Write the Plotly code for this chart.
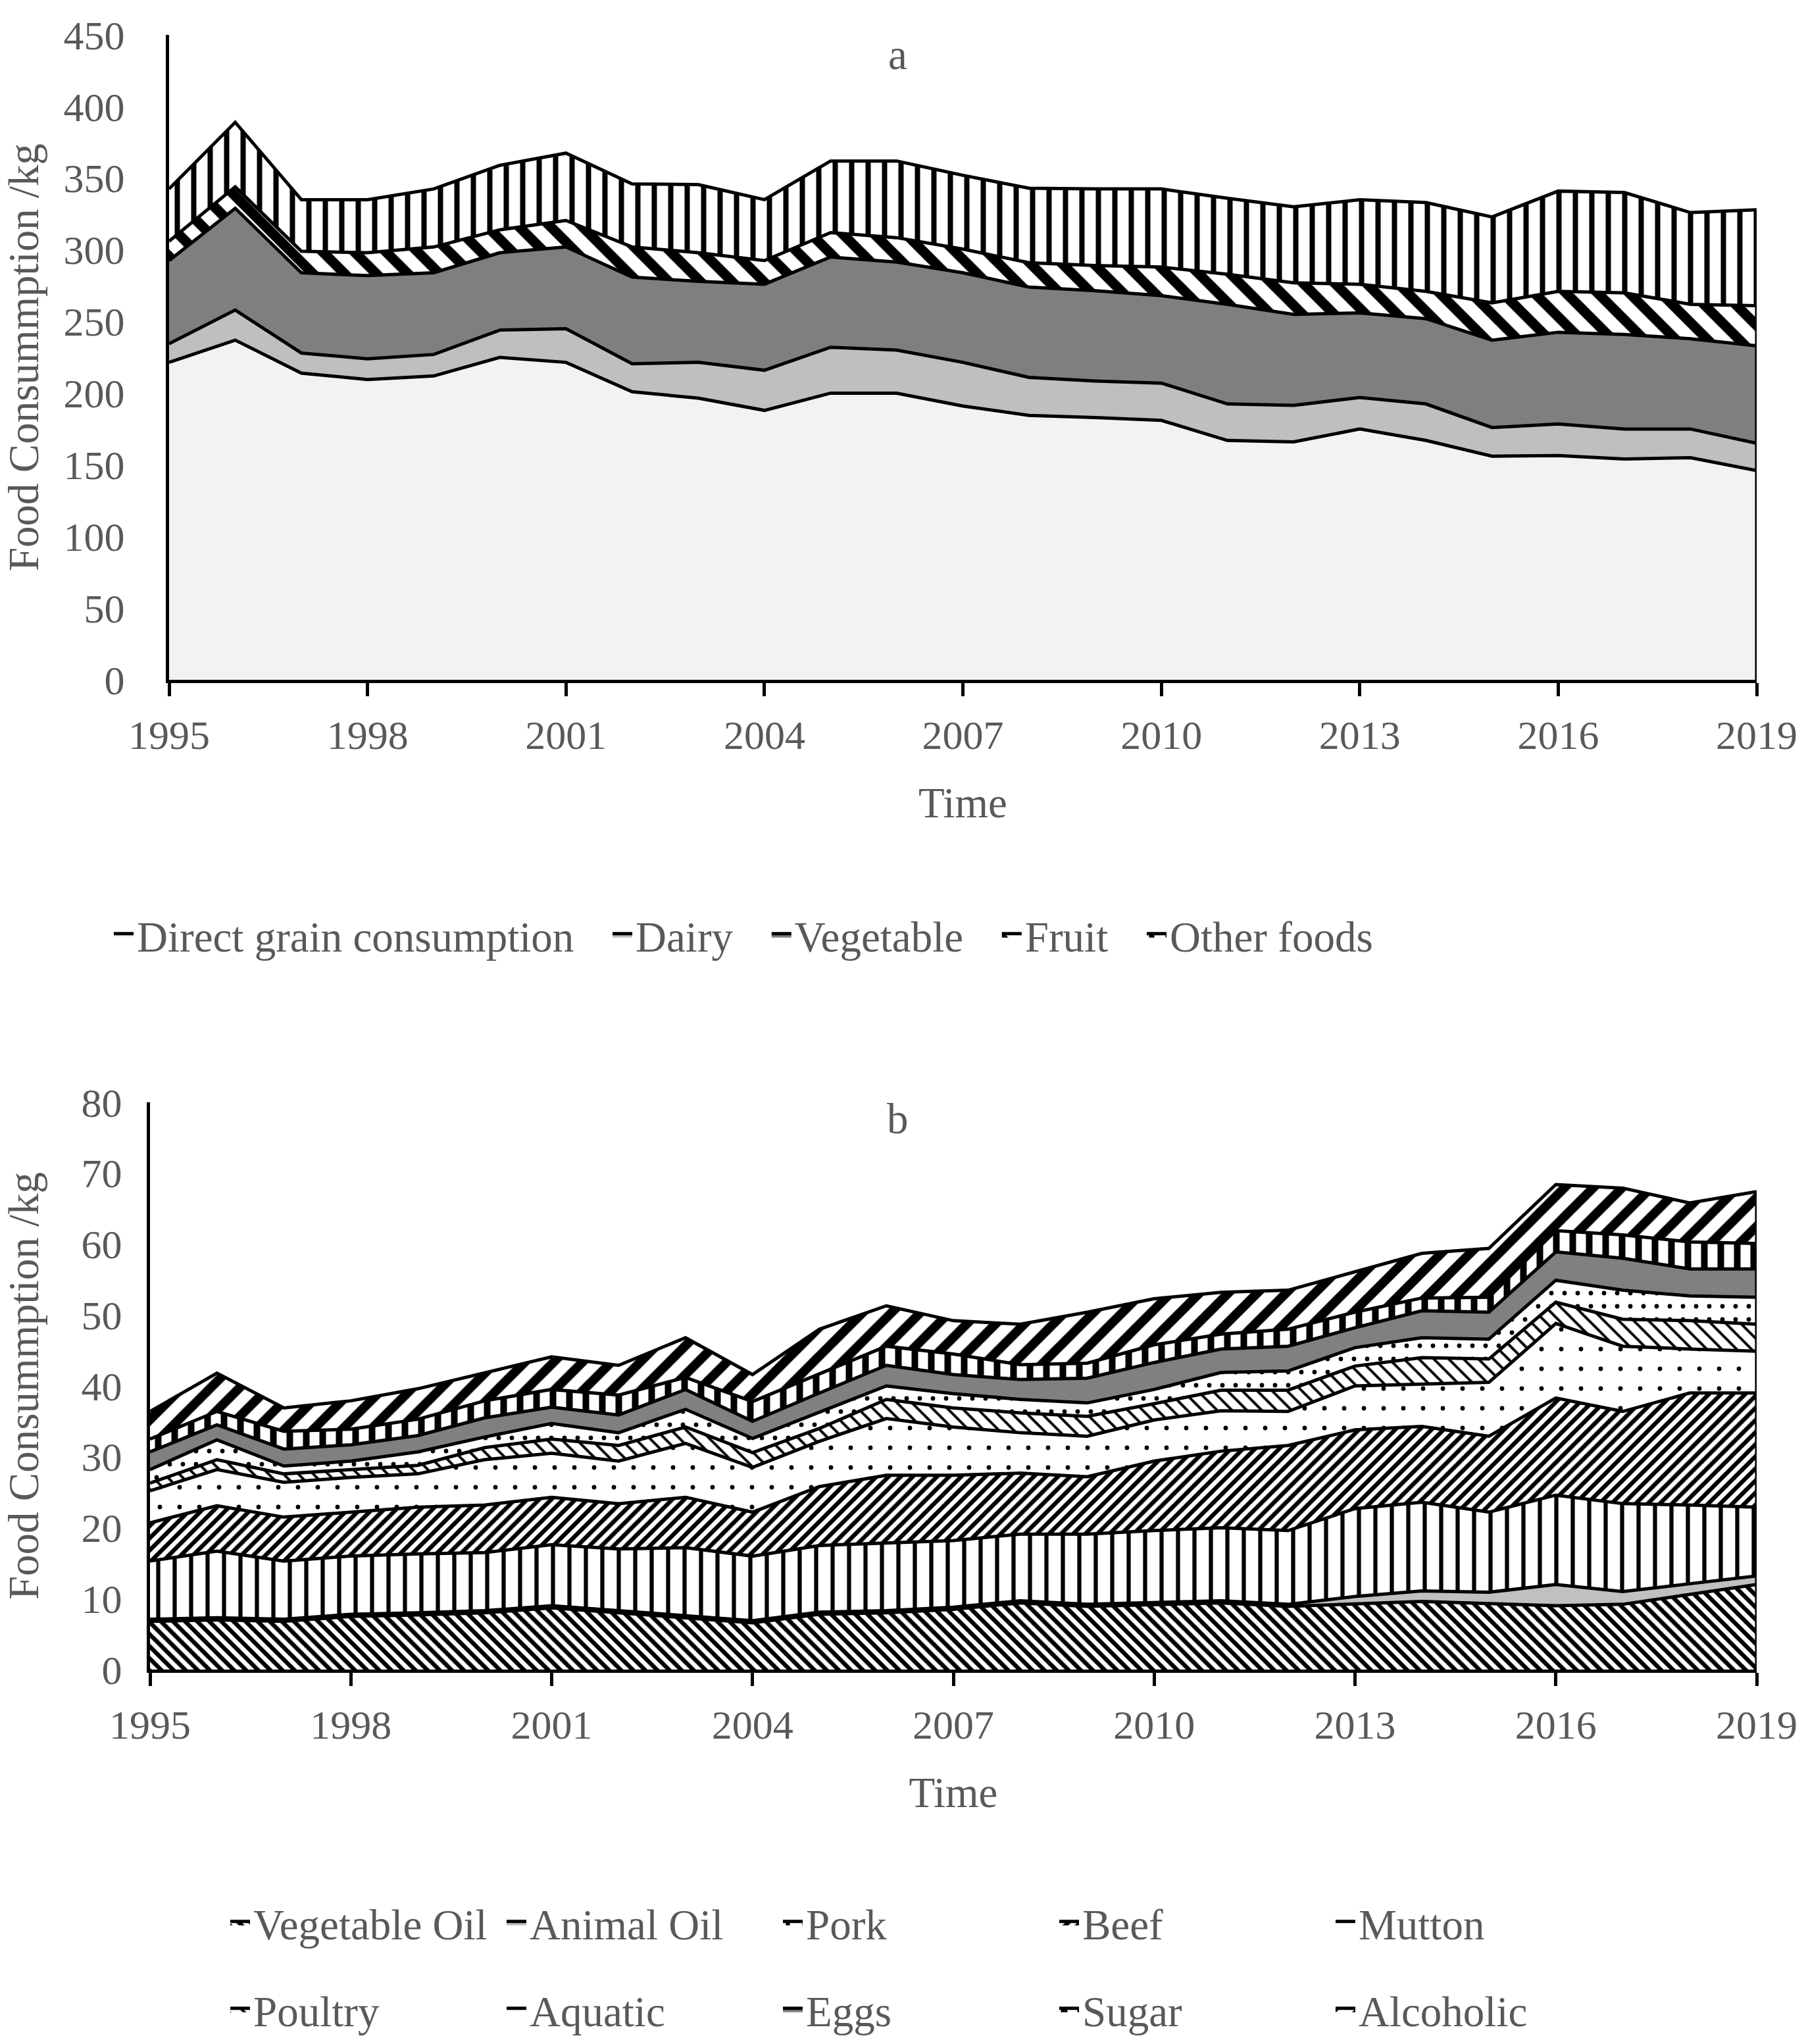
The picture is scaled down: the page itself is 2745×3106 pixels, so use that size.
import plotly.graph_objects as go

W, H = 2745, 3106

# ---------------- data ----------------
years = list(range(1995, 2020))
tick_years = [1995, 1998, 2001, 2004, 2007, 2010, 2013, 2016, 2019]

# chart a (kg per capita)
grain = [221.5, 237, 214, 209.5, 212, 225, 221.5, 201, 196.5, 188, 200, 200, 191,
         184.5, 183, 181, 167, 166, 175, 167, 156, 156.5, 154, 155, 146]
dairy = [13, 21, 14, 14.5, 15, 19, 23.5, 19.5, 25, 28, 32, 30, 30.5,
         26.5, 25.5, 26, 25.5, 25.5, 22, 25.5, 20, 22, 21, 20, 19]
vegetable = [58, 71, 56, 58, 57, 54, 57, 60.5, 56.5, 60, 63, 61.5, 62.5,
             63, 63, 61, 69.5, 63.5, 59, 59.5, 61, 64, 66, 63, 68]
fruit = [13.5, 15, 15, 16, 18, 16, 18.5, 21, 20, 16.5, 17, 17, 16.5,
         17, 17.5, 20, 21, 22, 20, 19, 26, 28.5, 29, 24, 28]
other_foods = [36.5, 45, 36, 37, 40.5, 45, 47, 44, 47.5, 42.5, 50, 53.5, 51.5,
               52, 53.5, 54.5, 53, 53, 59, 62, 60, 70, 70, 64, 67]

# chart b (kg per capita)
veg_oil = [6.8, 7.0, 6.8, 7.5, 7.7, 8.0, 8.7, 8.0, 7.3, 6.6, 7.8, 8.0, 8.5,
           9.4, 8.9, 9.2, 9.4, 8.9, 9.3, 9.6, 9.3, 9.0, 9.2, 10.6, 12.0]
animal_oil = [0.3, 0.3, 0.3, 0.3, 0.3, 0.3, 0.3, 0.3, 0.3, 0.3, 0.3, 0.3, 0.3,
              0.3, 0.3, 0.3, 0.3, 0.3, 1.0, 1.5, 1.6, 3.0, 1.8, 1.5, 1.2]
pork = [8.2, 9.4, 8.2, 8.2, 8.3, 8.2, 8.6, 8.7, 9.6, 9.1, 9.4, 9.6, 9.4,
        9.4, 9.9, 10.1, 10.3, 10.4, 12.4, 12.5, 11.3, 12.6, 12.4, 11.1, 9.7]
beef = [5.4, 6.4, 6.2, 6.2, 6.6, 6.7, 6.7, 6.4, 7.1, 6.2, 8.3, 9.5, 9.2,
        8.6, 8.1, 9.8, 10.8, 12.0, 11.1, 10.7, 10.7, 13.7, 13.0, 15.8, 16.1]
mutton = [4.5, 5.1, 4.9, 4.9, 4.7, 6.4, 6.2, 6.0, 7.6, 6.3, 6.4, 8.0, 6.8,
          5.7, 5.7, 5.8, 5.7, 4.8, 6.2, 5.9, 7.6, 10.5, 9.2, 6.2, 5.9]
poultry = [1.1, 1.4, 1.2, 1.1, 1.2, 1.7, 2.0, 2.2, 2.3, 2.1, 1.8, 2.7, 2.7,
           2.8, 2.8, 2.3, 2.9, 3.0, 2.8, 3.8, 3.3, 3.0, 3.8, 4.0, 3.8]
aquatic = [1.9, 2.8, 1.1, 1.2, 1.9, 1.5, 2.2, 1.8, 2.5, 2.0, 2.3, 1.9, 2.0,
           1.9, 1.9, 2.0, 2.5, 2.7, 2.6, 2.8, 2.8, 3.1, 4.1, 3.5, 3.8]
eggs = [2.5, 2.1, 2.4, 2.3, 2.3, 2.7, 2.3, 2.5, 2.8, 2.4, 2.7, 2.9, 2.7,
        2.8, 3.5, 3.8, 3.3, 3.5, 2.8, 3.8, 3.8, 4.0, 4.5, 3.8, 4.0]
sugar = [1.8, 1.9, 2.5, 2.2, 2.3, 2.4, 2.5, 2.8, 1.7, 2.8, 2.7, 2.7, 2.9,
         2.1, 2.1, 2.5, 2.1, 2.4, 2.2, 1.8, 2.1, 3.0, 3.3, 3.8, 3.6]
alcoholic = [3.9, 5.4, 3.3, 4.0, 4.3, 4.0, 4.6, 4.2, 5.6, 3.8, 6.3, 5.7, 4.7,
             5.7, 7.2, 6.5, 5.9, 5.5, 5.7, 6.3, 6.9, 6.5, 6.6, 5.5, 7.3]

# ---------------- style ----------------
FONT = "Liberation Serif"
GREY = "#595959"
TICK_SIZE = 62
TEXT_SIZE = 65
GAP = "\u00a0\u00a0\u00a0"  # spacing after legend labels


def solid(c):
    return dict(fillcolor=c)


def pat(shape, size, solidity):
    return dict(fillcolor="white",
                fillpattern=dict(shape=shape, size=size, solidity=solidity,
                                 fgcolor="black", bgcolor="white", fillmode="replace"))


a_series = [
    ("Direct grain consumption", grain, solid("#f2f2f2")),
    ("Dairy", dairy, solid("#bfbfbf")),
    ("Vegetable", vegetable, solid("#7f7f7f")),
    ("Fruit", fruit, pat("\\", 34, 0.45)),
    ("Other foods", other_foods, pat("|", 25, 0.32)),
]

b_series = [
    ("Vegetable Oil", veg_oil, pat("\\", 13, 0.5), "legend2"),
    ("Animal Oil", animal_oil, solid("#c0c0c0"), "legend2"),
    ("Pork", pork, pat("|", 25, 0.25), "legend2"),
    ("Beef", beef, pat("/", 13, 0.5), "legend2"),
    ("Mutton", mutton, pat(".", 30, 0.04), "legend2"),
    ("Poultry", poultry, pat("\\", 16, 0.25), "legend3"),
    ("Aquatic", aquatic, pat(".", 20, 0.09), "legend3"),
    ("Eggs", eggs, solid("#808080"), "legend3"),
    ("Sugar", sugar, pat("|", 25, 0.4), "legend3"),
    ("Alcoholic", alcoholic, pat("/", 31, 0.45), "legend3"),
]

fig = go.Figure()

for i, (name, vals, style) in enumerate(a_series):
    label = name + (GAP if i < len(a_series) - 1 else "")
    fig.add_trace(go.Scatter(
        x=years, y=vals, name=label, stackgroup="a", mode="lines",
        line=dict(color="black", width=5), xaxis="x", yaxis="y",
        legend="legend", hoverinfo="x+y+name", **style))

for name, vals, style, lg in b_series:
    fig.add_trace(go.Scatter(
        x=years, y=vals, name=name, stackgroup="b", mode="lines",
        line=dict(color="black", width=5), xaxis="x2", yaxis="y2",
        legend=lg, hoverinfo="x+y+name", **style))

# closing vertical edge of the stacked areas at the last year
total_a_last = sum(s[1][-1] for s in a_series)
total_b_last = sum(s[1][-1] for s in b_series)
fig.add_trace(go.Scatter(x=[years[-1], years[-1]], y=[0, total_a_last], mode="lines",
                         line=dict(color="black", width=5), showlegend=False,
                         hoverinfo="skip", xaxis="x", yaxis="y", cliponaxis=False))
fig.add_trace(go.Scatter(x=[years[-1], years[-1]], y=[0, total_b_last], mode="lines",
                         line=dict(color="black", width=5), showlegend=False,
                         hoverinfo="skip", xaxis="x2", yaxis="y2", cliponaxis=False))


def px_x(x):
    return x / W


def px_y(y):
    return 1 - y / H


axis_common = dict(
    showline=True, linecolor="black", linewidth=5, showgrid=False, zeroline=False,
    tickfont=dict(family=FONT, size=TICK_SIZE, color=GREY),
)

xcommon = dict(axis_common, range=[1995, 2019], tickmode="array", tickvals=tick_years,
               ticktext=[str(t) for t in tick_years], ticks="outside", ticklen=20,
               tickwidth=5, tickcolor="black", ticklabelstandoff=6,
               title=dict(text="Time", font=dict(family=FONT, size=TEXT_SIZE, color=GREY),
                          standoff=48))

legend_font = dict(family=FONT, size=TEXT_SIZE, color=GREY)

fig.update_layout(
    width=W, height=H,
    margin=dict(l=0, r=0, t=0, b=0, autoexpand=False),
    paper_bgcolor="white", plot_bgcolor="white",
    font=dict(family=FONT, color=GREY),
    showlegend=True,
    xaxis=dict(xcommon, domain=[px_x(257), px_x(2670)], anchor="y"),
    yaxis=dict(axis_common, domain=[px_y(1033), px_y(53)], anchor="x",
               range=[0, 450], dtick=50, ticks="", ticklabelstandoff=50,
               title=dict(text="Food Consummption /kg", font=legend_font, standoff=30)),
    xaxis2=dict(xcommon, domain=[px_x(228), px_x(2670)], anchor="y2"),
    yaxis2=dict(axis_common, domain=[px_y(2537), px_y(1675)], anchor="x2",
                range=[0, 80], dtick=10, ticks="", ticklabelstandoff=25,
                title=dict(text="Food Consummption /kg", font=legend_font, standoff=60)),
    legend=dict(orientation="h", x=px_x(168), xanchor="left", y=px_y(1421), yanchor="middle",
                font=legend_font, traceorder="normal", bgcolor="rgba(0,0,0,0)"),
    legend2=dict(orientation="h", x=px_x(345), xanchor="left", y=px_y(2922), yanchor="middle",
                 font=legend_font, traceorder="normal",
                 entrywidth=375, entrywidthmode="pixels", bgcolor="rgba(0,0,0,0)"),
    legend3=dict(orientation="h", x=px_x(345), xanchor="left", y=px_y(3054), yanchor="middle",
                 font=legend_font, traceorder="normal",
                 entrywidth=375, entrywidthmode="pixels", bgcolor="rgba(0,0,0,0)"),
    annotations=[
        dict(text="a", x=px_x(1364), y=px_y(83), xref="paper", yref="paper",
             xanchor="center", yanchor="middle", showarrow=False, font=legend_font),
        dict(text="b", x=px_x(1364), y=px_y(1700), xref="paper", yref="paper",
             xanchor="center", yanchor="middle", showarrow=False, font=legend_font),
    ],
)

fig.write_html("out.html", config={"displayModeBar": False},
               post_script="document.body.style.margin='0';")
